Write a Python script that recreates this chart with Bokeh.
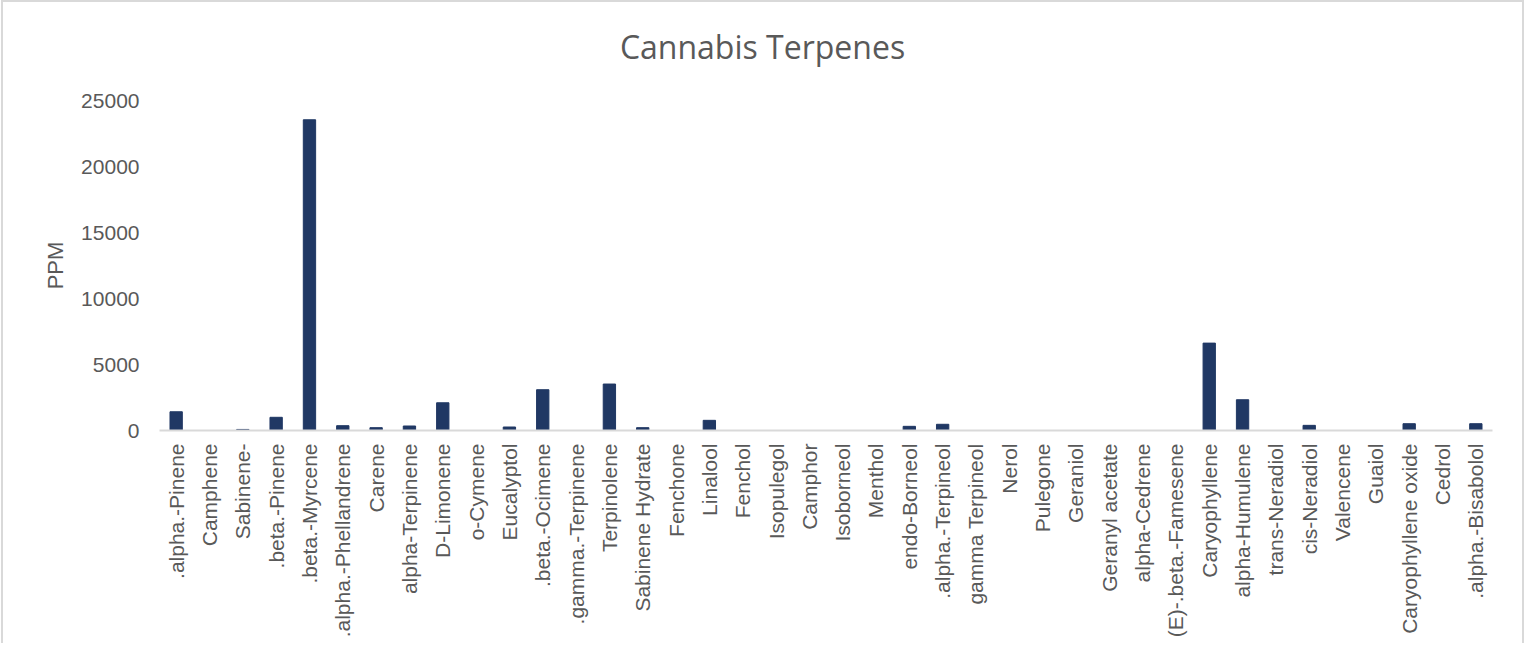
import math
from bokeh.plotting import figure
from bokeh.layouts import column
from bokeh.models import Range1d, FactorRange, Div
from bokeh.embed import file_html
from bokeh.resources import INLINE

categories = [
    ".alpha.-Pinene", "Camphene", "Sabinene-", ".beta.-Pinene", ".beta.-Myrcene",
    ".alpha.-Phellandrene", "Carene", "alpha-Terpinene", "D-Limonene", "o-Cymene",
    "Eucalyptol", ".beta.-Ocimene", ".gamma.-Terpinene", "Terpinolene", "Sabinene Hydrate",
    "Fenchone", "Linalool", "Fenchol", "Isopulegol", "Camphor",
    "Isoborneol", "Menthol", "endo-Borneol", ".alpha.-Terpineol", "gamma Terpineol",
    "Nerol", "Pulegone", "Geraniol", "Geranyl acetate", "alpha-Cedrene",
    "(E)-.beta.-Famesene", "Caryophyllene", "alpha-Humulene", "trans-Neradiol", "cis-Neradiol",
    "Valencene", "Guaiol", "Caryophyllene oxide", "Cedrol", ".alpha.-Bisabolol",
]
ppm = [
    1420, 0, 80, 1000, 23540,
    365, 215, 340, 2100, 0,
    265, 3090, 0, 3520, 215,
    0, 770, 0, 0, 0,
    0, 0, 315, 470, 0,
    0, 0, 0, 0, 0,
    0, 6620, 2330, 0, 390,
    0, 0, 515, 0, 515,
]
y_ticks = [0, 5000, 10000, 15000, 20000, 25000]
title_text = "Cannabis Terpenes"

FRAME_W, FRAME_H = 1333, 330
BORDER_L, BORDER_R = 156, 30
CANVAS_W = BORDER_L + FRAME_W + BORDER_R
TITLE_H = 70

p = figure(
    x_range=FactorRange(*categories, range_padding=0),
    y_range=Range1d(0, 25000),
    frame_width=FRAME_W, frame_height=FRAME_H,
    output_backend="svg", toolbar_location=None,
    min_border_left=BORDER_L, min_border_right=BORDER_R,
    min_border_top=28, min_border_bottom=213,
)
p.x_range.factor_padding = 0

p.vbar(x=categories, top=ppm, width=0.37, color="#203864")

p.outline_line_color = None
p.xgrid.grid_line_color = None
p.ygrid.grid_line_color = None
p.background_fill_color = "white"
p.border_fill_color = "white"

p.yaxis.ticker = y_ticks
p.yaxis.axis_line_color = None
p.yaxis.major_tick_line_color = None
p.yaxis.minor_tick_line_color = None
p.yaxis.major_label_text_font = "Liberation Sans"
p.yaxis.major_label_text_font_size = "21px"
p.yaxis.major_label_text_color = "#595959"
p.yaxis.major_label_standoff = 14
p.yaxis.axis_label = "PPM"
p.yaxis.axis_label_text_font = "Liberation Sans"
p.yaxis.axis_label_text_font_size = "22px"
p.yaxis.axis_label_text_font_style = "normal"
p.yaxis.axis_label_text_color = "#595959"
p.yaxis.axis_label_standoff = 10

p.xaxis.axis_line_color = "#d9d9d9"
p.xaxis.axis_line_width = 2
p.xaxis.major_tick_line_color = None
p.xaxis.minor_tick_line_color = None
p.xaxis.major_label_orientation = math.pi / 2
p.xaxis.major_label_text_font = "Liberation Sans"
p.xaxis.major_label_text_font_size = "21px"
p.xaxis.major_label_text_color = "#595959"
p.xaxis.major_label_standoff = 7

title = Div(
    text=('<div style="padding-top:27px; margin:0; font-family:\'Open Sans\'; '
          'font-size:32px; line-height:36px; color:#595959; text-align:center; '
          'width:%dpx">%s</div>' % (CANVAS_W, title_text)),
    width=CANVAS_W, height=TITLE_H, margin=0,
    styles={"background-color": "white"},
)

layout = column(title, p, spacing=0,
                styles={"border": "2px solid #d9d9d9", "border-bottom": "none",
                        "margin-left": "1px", "margin-top": "0px",
                        "background-color": "white"})

open("out.html", "w").write(file_html(layout, INLINE))
